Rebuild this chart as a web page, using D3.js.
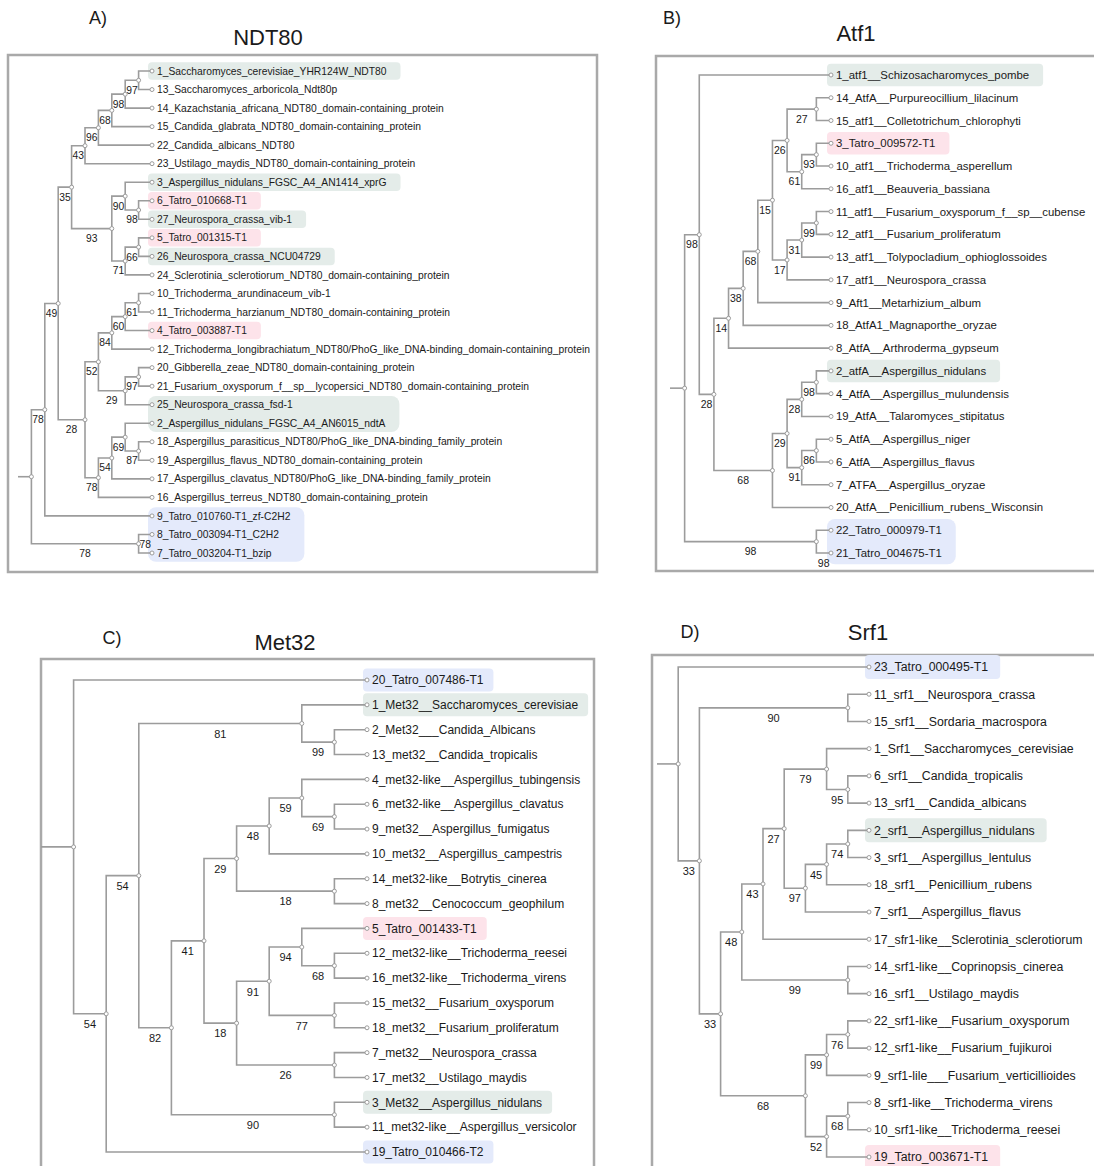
<!DOCTYPE html>
<head>
  <meta charset="utf-8">
  <style>
    body { margin: 0; background: #fff; }
    svg text { font-family: "Liberation Sans", Arial, sans-serif; fill: #1a1a1a; }
    .branch { fill: none; stroke: #9c9c9c; stroke-width: 1.6; }
    .frame { fill: none; stroke: #a9a9a9; stroke-width: 2.5; }
    .dot { fill: #fff; stroke: #9c9c9c; stroke-width: 1; }
  </style>
  <script src="https://d3js.org/d3.v7.min.js"></script>
</head>
<body>
<script>

// ---- A) NDT80 ----
var ndt80Labels = [
  "1_Saccharomyces_cerevisiae_YHR124W_NDT80",
  "13_Saccharomyces_arboricola_Ndt80p",
  "14_Kazachstania_africana_NDT80_domain-containing_protein",
  "15_Candida_glabrata_NDT80_domain-containing_protein",
  "22_Candida_albicans_NDT80",
  "23_Ustilago_maydis_NDT80_domain-containing_protein",
  "3_Aspergillus_nidulans_FGSC_A4_AN1414_xprG",
  "6_Tatro_010668-T1",
  "27_Neurospora_crassa_vib-1",
  "5_Tatro_001315-T1",
  "26_Neurospora_crassa_NCU04729",
  "24_Sclerotinia_sclerotiorum_NDT80_domain-containing_protein",
  "10_Trichoderma_arundinaceum_vib-1",
  "11_Trichoderma_harzianum_NDT80_domain-containing_protein",
  "4_Tatro_003887-T1",
  "12_Trichoderma_longibrachiatum_NDT80/PhoG_like_DNA-binding_domain-containing_protein",
  "20_Gibberella_zeae_NDT80_domain-containing_protein",
  "21_Fusarium_oxysporum_f__sp__lycopersici_NDT80_domain-containing_protein",
  "25_Neurospora_crassa_fsd-1",
  "2_Aspergillus_nidulans_FGSC_A4_AN6015_ndtA",
  "18_Aspergillus_parasiticus_NDT80/PhoG_like_DNA-binding_family_protein",
  "19_Aspergillus_flavus_NDT80_domain-containing_protein",
  "17_Aspergillus_clavatus_NDT80/PhoG_like_DNA-binding_family_protein",
  "16_Aspergillus_terreus_NDT80_domain-containing_protein",
  "9_Tatro_010760-T1_zf-C2H2",
  "8_Tatro_003094-T1_C2H2",
  "7_Tatro_003204-T1_bzip"
];
var ndt80Tree = "(((((((((1,13)97,14)98,15)68,22)96,23)43,((3,(6,27)98)90,((5,26)66,24)71)93)35,(((((10,11)61,4)60,12)84,((20,21)97,25)29)52,(((2,(18,19)87)69,17)54,16)78)28)49,9)78,(8,7)78);";
var ndt80Marks = [["1","g"],["3","g"],["6","p"],["27","g"],["5","p"],["26","g"],["4","p"],["25","g"],["2","g"],["9","b"],["8","b"],["7","b"]];
var ndt80LeafSupport = [["8", 78]];

// ---- B) Atf1 ----
var atf1Labels = [
  "1_atf1__Schizosacharomyces_pombe",
  "14_AtfA__Purpureocillium_lilacinum",
  "15_atf1__Colletotrichum_chlorophyti",
  "3_Tatro_009572-T1",
  "10_atf1__Trichoderma_asperellum",
  "16_atf1__Beauveria_bassiana",
  "11_atf1__Fusarium_oxysporum_f__sp__cubense",
  "12_atf1__Fusarium_proliferatum",
  "13_atf1__Tolypocladium_ophioglossoides",
  "17_atf1__Neurospora_crassa",
  "9_Aft1__Metarhizium_album",
  "18_AtfA1_Magnaporthe_oryzae",
  "8_AtfA__Arthroderma_gypseum",
  "2_atfA__Aspergillus_nidulans",
  "4_AtfA__Aspergillus_mulundensis",
  "19_AtfA__Talaromyces_stipitatus",
  "5_AtfA__Aspergillus_niger",
  "6_AtfA__Aspergillus_flavus",
  "7_ATFA__Aspergillus_oryzae",
  "20_AtfA__Penicillium_rubens_Wisconsin",
  "22_Tatro_000979-T1",
  "21_Tatro_004675-T1"
];
var atf1Tree = "((1,(((((((14,15)27,((3,10)93,16)61)26,(((11,12)99,13)31,17)17)15,9)68,18)38,8)14,((((2,4)98,19)28,((5,6)86,7)91)29,20)68)28)98,(22,21)98);";
var atf1Marks = [["1","g"],["3","p"],["2","g"],["22","b"],["21","b"]];
var atf1LeafSupport = [["21", 98]];

// ---- C) Met32 ----
var met32Labels = [
  "20_Tatro_007486-T1",
  "1_Met32__Saccharomyces_cerevisiae",
  "2_Met32___Candida_Albicans",
  "13_met32__Candida_tropicalis",
  "4_met32-like__Aspergillus_tubingensis",
  "6_met32-like__Aspergillus_clavatus",
  "9_met32__Aspergillus_fumigatus",
  "10_met32__Aspergillus_campestris",
  "14_met32-like__Botrytis_cinerea",
  "8_met32__Cenococcum_geophilum",
  "5_Tatro_001433-T1",
  "12_met32-like__Trichoderma_reesei",
  "16_met32-like__Trichoderma_virens",
  "15_met32__Fusarium_oxysporum",
  "18_met32__Fusarium_proliferatum",
  "7_met32__Neurospora_crassa",
  "17_met32__Ustilago_maydis",
  "3_Met32__Aspergillus_nidulans",
  "11_met32-like__Aspergillus_versicolor",
  "19_Tatro_010466-T2"
];
var met32Tree = "(20,(((1,(2,13)99)81,(((((4,(6,9)69)59,10)48,(14,8)18)29,(((5,(12,16)68)94,(15,18)77)91,(7,17)26)18)41,(3,11)90)82)54,19)54);";
var met32Marks = [["20","b"],["1","g"],["5","p"],["3","g"],["19","b"]];
var met32LeafSupport = [];

// ---- D) Srf1 ----
var srf1Labels = [
  "23_Tatro_000495-T1",
  "11_srf1__Neurospora_crassa",
  "15_srf1__Sordaria_macrospora",
  "1_Srf1__Saccharomyces_cerevisiae",
  "6_srf1__Candida_tropicalis",
  "13_srf1__Candida_albicans",
  "2_srf1__Aspergillus_nidulans",
  "3_srf1__Aspergillus_lentulus",
  "18_srf1__Penicillium_rubens",
  "7_srf1__Aspergillus_flavus",
  "17_sfr1-like__Sclerotinia_sclerotiorum",
  "14_srf1-like__Coprinopsis_cinerea",
  "16_srf1__Ustilago_maydis",
  "22_srf1-like__Fusarium_oxysporum",
  "12_srf1-like__Fusarium_fujikuroi",
  "9_srf1-lile___Fusarium_verticillioides",
  "8_srf1-like__Trichoderma_virens",
  "10_srf1-like__Trichoderma_reesei",
  "19_Tatro_003671-T1"
];
var srf1Tree = "(23,((11,15)90,(((((1,(6,13)95)79,(((2,3)74,18)45,7)97)27,17)43,(14,16)99)48,(((22,12)76,9)99,((8,10)68,19)52)68)33)33);";
var srf1Marks = [["23","b"],["2","g"],["19","p"]];
var srf1LeafSupport = [];

var markColor = { g: "#e4ece9", p: "#fde3ea", b: "#e4eafb" };

// panel layout
var panels = [
  { tag: "A)", title: "NDT80", labels: ndt80Labels, tree: ndt80Tree, marks: ndt80Marks, leafSup: ndt80LeafSupport,
    frame: [8, 55, 597, 572], tagPos: [98, 18], titlePos: [268, 37],
    leafX: 152, stemX: 18, y0: 71, y1: 553, font: 10.3, supFont: 10.3, boxH: 17.5, pad: 14 },
  { tag: "B)", title: "Atf1", labels: atf1Labels, tree: atf1Tree, marks: atf1Marks, leafSup: atf1LeafSupport,
    frame: [656, 56, 1097, 571], tagPos: [672, 18], titlePos: [856, 33],
    leafX: 831, stemX: 670, y0: 75, y1: 553, font: 11.4, supFont: 10.5, boxH: 22.5, pad: 14 },
  { tag: "C)", title: "Met32", labels: met32Labels, tree: met32Tree, marks: met32Marks, leafSup: met32LeafSupport,
    frame: [41, 659, 594, 1175], tagPos: [112, 638], titlePos: [285, 642],
    leafX: 367, stemX: 41, y0: 680, y1: 1152, font: 12, supFont: 11, boxH: 23, pad: 10 },
  { tag: "D)", title: "Srf1", labels: srf1Labels, tree: srf1Tree, marks: srf1Marks, leafSup: srf1LeafSupport,
    frame: [652, 655, 1097, 1175], tagPos: [690, 632], titlePos: [868, 632],
    leafX: 869, stemX: 657, y0: 667, y1: 1157, font: 12.3, supFont: 11, boxH: 24, pad: 12 }
];

function parseNewick(s) {
  var i = 0;
  function node() {
    var n = {};
    if (s[i] === "(") {
      n.children = [];
      i++;
      n.children.push(node());
      while (s[i] === ",") { i++; n.children.push(node()); }
      i++;
    }
    var name = "";
    while (i < s.length && ",);".indexOf(s[i]) < 0) name += s[i++];
    n.name = name;
    return n;
  }
  return node();
}

var svg = d3.select("body").append("svg")
  .attr("width", 1094).attr("height", 1166);

panels.forEach(function(p) {
  var g = svg.append("g");
  var root = d3.hierarchy(parseNewick(p.tree));
  var leaves = root.leaves();
  var labelById = {};
  p.labels.forEach(function(l) { labelById[l.split("_")[0]] = l; });

  // cladogram: leaves aligned, node x from its height
  var x = d3.scaleLinear().domain([0, root.height + 1]).range([p.leafX, p.stemX]);
  var y = d3.scaleLinear().domain([0, leaves.length - 1]).range([p.y0, p.y1]);

  leaves.forEach(function(d, i) { d.py = y(i); });
  root.eachAfter(function(d) {
    d.px = x(d.height);
    if (d.children) d.py = (d.children[0].py + d.children[d.children.length - 1].py) / 2;
  });

  g.append("rect").attr("class", "frame")
    .attr("x", p.frame[0]).attr("y", p.frame[1])
    .attr("width", p.frame[2] - p.frame[0]).attr("height", p.frame[3] - p.frame[1]);

  g.append("text").text(p.tag).attr("x", p.tagPos[0]).attr("y", p.tagPos[1])
    .attr("dy", "0.35em").attr("text-anchor", "middle").attr("font-size", 18);
  g.append("text").text(p.title).attr("x", p.titlePos[0]).attr("y", p.titlePos[1])
    .attr("dy", "0.35em").attr("text-anchor", "middle").attr("font-size", 22);

  var boxLayer = g.append("g");
  var texts = g.selectAll("text.leaf").data(leaves).enter().append("text")
    .attr("class", "leaf")
    .attr("x", p.leafX + 5).attr("y", function(d) { return d.py; })
    .attr("dy", "0.35em").attr("font-size", p.font)
    .text(function(d) { return labelById[d.data.name]; });
  texts.each(function(d) { d.tw = this.getComputedTextLength(); });

  // highlight boxes; neighbours of the same colour share one box
  var colorOf = {};
  p.marks.forEach(function(m) { colorOf[m[0]] = m[1]; });
  var groups = [];
  leaves.forEach(function(d, i) {
    var c = colorOf[d.data.name];
    if (!c) return;
    var last = groups[groups.length - 1];
    if (last && last.c === c && last.end === i - 1) { last.end = i; last.w = Math.max(last.w, d.tw); }
    else groups.push({ c: c, start: i, end: i, w: d.tw });
  });
  boxLayer.selectAll("rect").data(groups).enter().append("rect")
    .attr("x", p.leafX - 4)
    .attr("y", function(d) { return y(d.start) - p.boxH / 2; })
    .attr("width", function(d) { return d.w + 9 + p.pad; })
    .attr("height", function(d) { return y(d.end) - y(d.start) + p.boxH; })
    .attr("rx", function(d) { return d.end > d.start ? 8 : 4; })
    .attr("fill", function(d) { return markColor[d.c]; });

  g.selectAll("path.branch").data(root.links()).enter().append("path")
    .attr("class", "branch")
    .attr("d", function(l) {
      return "M" + l.source.px + "," + l.source.py + "V" + l.target.py + "H" + l.target.px;
    });
  g.append("path").attr("class", "branch")
    .attr("d", "M" + x(root.height + 1) + "," + root.py + "H" + root.px);

  var supLeaf = {};
  p.leafSup.forEach(function(s) { supLeaf[s[0]] = s[1]; });
  var sup = root.descendants().filter(function(d) {
    return d.parent && (d.children ? d.data.name !== "" : supLeaf[d.data.name] != null);
  });
  g.selectAll("text.sup").data(sup).enter().append("text")
    .attr("class", "sup")
    .attr("x", function(d) { return (d.parent.px + d.px) / 2; })
    .attr("y", function(d) { return d.py + p.supFont * 0.95; })
    .attr("dy", "0.35em").attr("text-anchor", "middle").attr("font-size", p.supFont)
    .text(function(d) { return d.children ? d.data.name : supLeaf[d.data.name]; });

  g.selectAll("circle.dot").data(root.descendants()).enter().append("circle")
    .attr("class", "dot").attr("cx", function(d) { return d.px; }).attr("cy", function(d) { return d.py; })
    .attr("r", 2);
});
</script>
</body>
